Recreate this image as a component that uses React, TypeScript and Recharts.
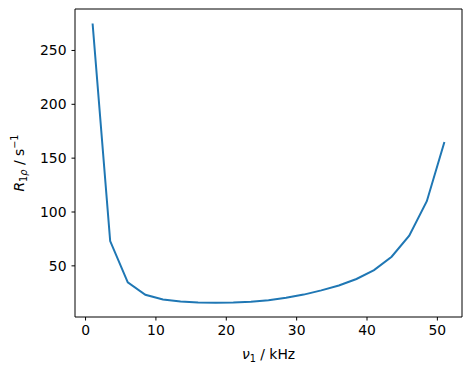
import { LineChart, Line, XAxis, YAxis, Label, ReferenceLine } from "recharts";

const nu1 = [1, 3.5, 6, 8.5, 11, 13.5, 16, 18.5, 21, 23.5, 26, 28.5, 31, 33.5, 36, 38.5, 41, 43.5, 46, 48.5, 51];
const r1rho = [275, 73, 34.7, 23.1, 18.7, 16.8, 16, 15.7, 15.9, 16.6, 18, 20.3, 23.3, 27.2, 31.7, 37.8, 46, 58.5, 78, 110, 165];
const xTicks = [0, 10, 20, 30, 40, 50];
const yTicks = [50, 100, 150, 200, 250];
const xDomain = [-1.5, 53.5];
const yDomain = [2.5, 288.5];

const FONT = "DejaVu Sans, sans-serif";
const FS = 13.9;

const data = nu1.map((x, i) => ({ x, y: r1rho[i] }));

function XLabel(props: any) {
    const vb = props.viewBox;
    const cx = vb.x + vb.width / 2;
    return (
        <text x={cx} y={359} textAnchor="middle" fontFamily={FONT} fontSize={FS} fill="#000">
            <tspan fontStyle="italic">ν</tspan>
            <tspan fontSize={FS * 0.7} dy={3}>1</tspan>
            <tspan dy={-3}> / kHz</tspan>
        </text>
    );
}

function YLabel(props: any) {
    const vb = props.viewBox;
    const cy = vb.y + vb.height / 2;
    const x = 24;
    return (
        <text x={x} y={cy} textAnchor="middle" fontFamily={FONT} fontSize={FS} fill="#000"
            transform={`rotate(-90, ${x}, ${cy})`}>
            <tspan fontStyle="italic">R</tspan>
            <tspan fontSize={FS * 0.7} dy={3}>1</tspan>
            <tspan fontSize={FS * 0.7} fontStyle="italic">ρ</tspan>
            <tspan dy={-3}> / s</tspan>
            <tspan fontSize={FS * 0.7} dy={-6}>−1</tspan>
        </text>
    );
}

export default function App() {
    const tickStyle = { fontFamily: FONT, fontSize: FS, fill: "#000" };
    return (
        <div style={{ position: "absolute", left: 0, top: 0, background: "#fff" }}>
            <LineChart width={472} height={374} data={data} margin={{ top: 9, right: 10, left: 0, bottom: 0 }}>
                <XAxis
                    dataKey="x"
                    type="number"
                    domain={xDomain}
                    ticks={xTicks}
                    height={57}
                    tick={tickStyle}
                    tickSize={3.5}
                    tickMargin={5}
                    axisLine={{ stroke: "#000", strokeWidth: 1 }}
                    tickLine={{ stroke: "#000", strokeWidth: 1 }}
                >
                    <Label content={<XLabel />} />
                </XAxis>
                <YAxis
                    type="number"
                    domain={yDomain}
                    ticks={yTicks}
                    width={75}
                    tick={tickStyle}
                    tickSize={3.5}
                    tickMargin={5}
                    axisLine={{ stroke: "#000", strokeWidth: 1 }}
                    tickLine={{ stroke: "#000", strokeWidth: 1 }}
                >
                    <Label content={<YLabel />} />
                </YAxis>
                <ReferenceLine x={xDomain[1]} stroke="#000" strokeWidth={1} ifOverflow="visible" />
                <ReferenceLine y={yDomain[1]} stroke="#000" strokeWidth={1} ifOverflow="visible" />
                <Line
                    type="linear"
                    dataKey="y"
                    stroke="#1f77b4"
                    strokeWidth={2}
                    dot={false}
                    isAnimationActive={false}
                />
            </LineChart>
        </div>
    );
}
